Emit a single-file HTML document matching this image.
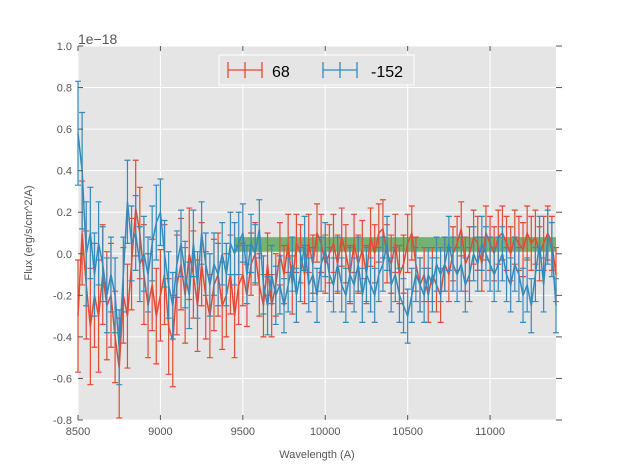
<!DOCTYPE html>
<html><head><meta charset="utf-8"><style>
body{margin:0;background:#fff;}
svg{display:block;font-family:"Liberation Sans",sans-serif;}
</style></head><body>
<svg id="chart" width="617" height="467">
  <rect x="78" y="46" width="478" height="374" fill="#e5e5e5"/>
  <g id="grid"></g>
  <g id="band"></g>
  <g id="series"></g>
  <g id="axes"></g>
  <text x="78" y="44" font-size="14" fill="#555">1e−18</text>
  <text x="317" y="458" font-size="11" fill="#555" text-anchor="middle">Wavelength (A)</text>
  <text transform="translate(32,233) rotate(-90)" font-size="11" fill="#555" text-anchor="middle">Flux (erg/s/cm^2/A)</text>
  <g>
    <rect x="219" y="55" width="195" height="30" fill="#e5e5e5" stroke="#fff" stroke-width="1"/>
    <g>
      <path d="M228,70H262M245,62V78M228,62V78M262,62V78" stroke="#E24A33" stroke-width="1.3" fill="none"/>
      <text x="272" y="77" font-size="16" fill="#000">68</text>
    </g>
    <g>
      <path d="M323,70H357M340,62V78M323,62V78M357,62V78" stroke="#348ABD" stroke-width="1.3" fill="none"/>
      <text x="371" y="77" font-size="16" fill="#000">-152</text>
    </g>
  </g>
</svg>
<script>
const xStart = 8500, xStep = 25;
const xTicks = [8500,9000,9500,10000,10500,11000];
const yTicks = [-0.8,-0.6,-0.4,-0.2,0.0,0.2,0.4,0.6,0.8,1.0];
const bandRange = [9450, 11400, 0.01, 0.08];
const red = [-0.30,0.10,-0.15,-0.35,-0.20,-0.30,-0.10,-0.25,-0.20,-0.40,
-0.55,-0.20,-0.30,-0.05,0.22,0.10,-0.10,-0.25,-0.15,-0.30,
-0.20,-0.10,-0.35,-0.42,-0.15,-0.05,-0.20,0.00,-0.10,-0.25,
-0.05,-0.20,-0.30,-0.15,-0.10,-0.25,-0.20,-0.10,-0.30,-0.15,
-0.10,-0.20,-0.05,0.00,-0.15,-0.25,-0.05,-0.25,-0.15,0.00,
-0.10,0.05,-0.15,0.05,0.00,-0.10,0.05,-0.05,0.10,0.05,
-0.05,0.00,0.05,-0.05,0.08,0.00,-0.10,0.05,-0.05,0.02,
-0.10,0.08,0.00,0.10,0.12,0.00,-0.05,0.05,-0.10,-0.05,
0.05,0.10,-0.05,-0.15,-0.10,-0.20,-0.10,-0.15,-0.20,-0.05,
-0.10,0.00,0.05,0.12,-0.05,0.00,0.08,0.05,-0.05,0.10,
0.05,0.00,0.08,0.10,0.05,0.00,0.08,0.05,0.02,0.10,
0.05,0.08,0.00,0.05,0.10,0.05,-0.10];
const blue = [0.58,0.40,0.00,0.10,-0.10,0.05,-0.05,-0.20,-0.10,-0.20,
-0.45,-0.10,0.25,0.05,0.10,-0.05,0.00,-0.10,0.05,0.15,
0.20,0.00,-0.15,-0.25,-0.05,0.05,-0.10,-0.20,0.05,-0.15,
0.10,-0.05,-0.15,-0.05,-0.10,0.00,-0.10,0.05,0.00,0.05,
0.10,-0.10,0.05,0.00,0.12,-0.15,-0.25,-0.10,-0.20,-0.15,
-0.25,-0.15,-0.05,-0.20,-0.10,0.05,-0.15,-0.10,-0.20,-0.05,
0.02,-0.10,-0.15,-0.05,-0.15,-0.20,-0.10,-0.15,-0.05,-0.20,
-0.10,-0.15,-0.20,-0.10,-0.05,0.05,-0.15,-0.10,-0.20,-0.25,
-0.30,-0.20,-0.10,-0.15,-0.20,-0.10,-0.15,-0.05,-0.10,-0.05,
0.05,-0.05,-0.10,-0.05,-0.15,-0.10,0.00,-0.05,0.05,0.00,
-0.05,-0.10,-0.05,0.00,-0.10,-0.15,-0.05,-0.10,-0.20,-0.15,
-0.25,-0.10,0.05,-0.15,0.08,0.02,-0.25];
const errRed = [0.27,0.25,0.26,0.28,0.25,0.27,0.24,0.26,0.25,0.22,
0.24,0.23,0.25,0.22,0.23,0.22,0.24,0.25,0.22,0.23,
0.22,0.24,0.23,0.22,0.24,0.22,0.23,0.22,0.21,0.22,
0.20,0.21,0.20,0.22,0.20,0.21,0.20,0.19,0.20,0.19,
0.15,0.15,0.15,0.15,0.15,0.15,0.15,0.15,0.15,0.15,
0.14,0.14,0.14,0.14,0.14,0.14,0.14,0.14,0.14,0.14,
0.14,0.14,0.14,0.14,0.14,0.14,0.14,0.14,0.14,0.14,
0.14,0.14,0.14,0.14,0.14,0.14,0.14,0.14,0.14,0.14,
0.14,0.13,0.13,0.13,0.13,0.13,0.13,0.13,0.13,0.13,
0.13,0.13,0.13,0.13,0.13,0.13,0.13,0.13,0.13,0.13,
0.13,0.13,0.13,0.13,0.13,0.13,0.13,0.13,0.13,0.13,
0.13,0.13,0.13,0.13,0.13,0.13,0.13];
const errBlue = [0.25,0.28,0.25,0.22,0.20,0.20,0.18,0.18,0.18,0.18,
0.18,0.18,0.20,0.18,0.18,0.18,0.18,0.18,0.18,0.18,
0.16,0.16,0.16,0.16,0.16,0.16,0.16,0.16,0.16,0.16,
0.15,0.15,0.15,0.15,0.15,0.15,0.15,0.15,0.15,0.15,
0.14,0.14,0.14,0.14,0.14,0.14,0.14,0.14,0.14,0.14,
0.13,0.13,0.13,0.13,0.13,0.13,0.13,0.13,0.13,0.13,
0.13,0.13,0.13,0.13,0.13,0.13,0.13,0.13,0.13,0.13,
0.13,0.13,0.13,0.13,0.13,0.13,0.13,0.13,0.13,0.13,
0.13,0.13,0.13,0.13,0.13,0.13,0.13,0.13,0.13,0.13,
0.13,0.13,0.13,0.13,0.13,0.13,0.13,0.13,0.13,0.13,
0.13,0.13,0.13,0.13,0.13,0.13,0.13,0.13,0.13,0.13,
0.13,0.13,0.13,0.13,0.13,0.13,0.13];

const NS="http://www.w3.org/2000/svg";
const L=78,R=556,T=46,B=420;
const xS=v=>L+(v-8500)/(11400-8500)*(R-L);
const yS=v=>B-(v+0.8)/(1.8)*(B-T);
function mk(tag,attrs,parent){const e=document.createElementNS(NS,tag);for(const k in attrs)e.setAttribute(k,attrs[k]);parent.appendChild(e);return e;}

const grid=document.getElementById('grid'), axes=document.getElementById('axes');
xTicks.forEach(t=>{
  const g=mk('line',{x1:xS(t),x2:xS(t),y1:T,y2:B,stroke:'#fff','stroke-width':1},grid);
  
  
  mk('line',{x1:xS(t),x2:xS(t),y1:B,y2:B-5,stroke:'#555','stroke-width':1},axes);
  mk('line',{x1:xS(t),x2:xS(t),y1:T,y2:T+5,stroke:'#555','stroke-width':1},axes);
  const tx=mk('text',{x:xS(t),y:B+15,'font-size':11,fill:'#555','text-anchor':'middle'},axes);
  tx.textContent=t;
  
  
});
yTicks.forEach(t=>{
  const g=mk('line',{x1:L,x2:R,y1:yS(t),y2:yS(t),stroke:'#fff','stroke-width':1},grid);
  
  
  mk('line',{x1:R,x2:R+6,y1:yS(t),y2:yS(t),stroke:'#555','stroke-width':1},axes);
  mk('line',{x1:L,x2:L+5,y1:yS(t),y2:yS(t),stroke:'#555','stroke-width':1},axes);
  const tx=mk('text',{x:L-6,y:yS(t)+4,'font-size':11,fill:'#555','text-anchor':'end'},axes);
  tx.textContent=t.toFixed(1);
  
  
});
const band=document.getElementById('band');
const br=mk('rect',{x:xS(bandRange[0]),y:yS(bandRange[3]),width:xS(bandRange[1])-xS(bandRange[0]),height:yS(bandRange[2])-yS(bandRange[3]),fill:'rgba(0,128,0,0.5)'},band);



const series=document.getElementById('series');
function draw(vals,errs,color,name){
  const g=mk('g',{},series);
  
  
  let d='';
  vals.forEach((v,i)=>{
    const x=xS(xStart+i*xStep), y1=yS(v+errs[i]), y2=yS(v-errs[i]);
    d+=`M${x},${y1}V${y2}M${x-3},${y1}H${x+3}M${x-3},${y2}H${x+3}`;
  });
  mk('path',{d:d,stroke:color,'stroke-width':1.2,fill:'none'},g);
  const pts=vals.map((v,i)=>xS(xStart+i*xStep)+','+yS(v)).join(' ');
  const pl=mk('polyline',{points:pts,stroke:color,'stroke-width':1.5,fill:'none'},g);
  
  
}
draw(red,errRed,'#E24A33','series-68');
draw(blue,errBlue,'#348ABD','series-152');
</script>
</body></html>
